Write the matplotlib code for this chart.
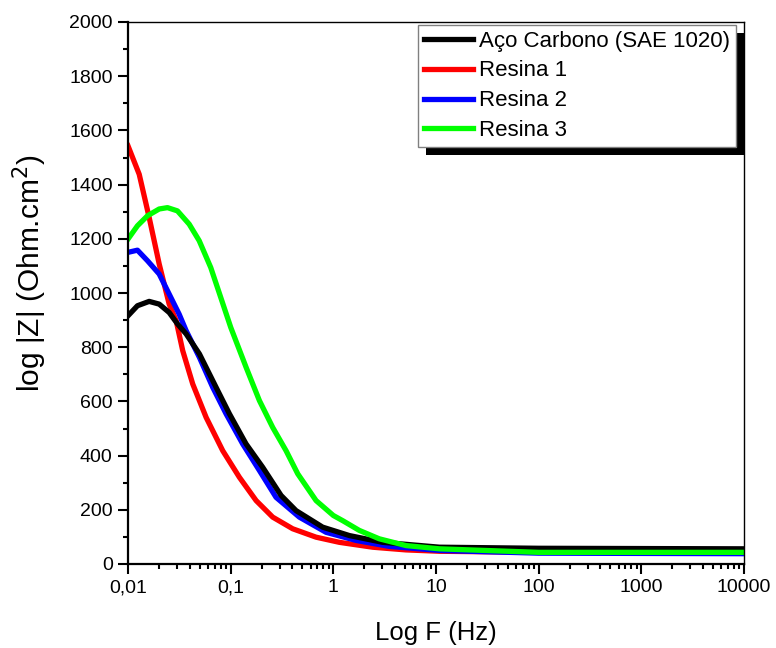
#!/usr/bin/env python3
import matplotlib
matplotlib.use("Agg")
import matplotlib.pyplot as plt
from matplotlib.ticker import FixedLocator, FuncFormatter, MultipleLocator, LogLocator, NullFormatter
from matplotlib.patches import Rectangle
from matplotlib.transforms import IdentityTransform

plt.rcParams['font.family'] = ['Liberation Sans', 'DejaVu Sans']

# frequencies (Hz) and |Z| values
f_aco = [0.01, 0.01236, 0.01607, 0.02013, 0.02518, 0.03032, 0.03683, 0.04966, 0.0721, 0.0973,
         0.1413, 0.205, 0.3097, 0.4335, 0.787, 1.432, 3.02, 10.8, 100, 10000]
z_aco = [916, 953, 969, 959, 928, 886, 849, 775, 652, 554,
         443, 357, 253, 197, 136, 105, 80, 62, 58, 56]

f_res1 = [0.01, 0.01286, 0.01607, 0.02013, 0.02518, 0.02944, 0.03413, 0.04273, 0.05768, 0.08372,
          0.1216, 0.177, 0.2567, 0.4018, 0.679, 1.143, 2.41, 5.10, 10.8, 100, 10000]
z_res1 = [1543, 1438, 1279, 1107, 959, 898, 787, 664, 541, 418,
          320, 234, 173, 130, 99, 80, 62, 52, 47, 43, 42]

f_res2 = [0.01, 0.01236, 0.01549, 0.02013, 0.02518, 0.03148, 0.03683, 0.04966, 0.06687, 0.09027,
          0.131, 0.1905, 0.2767, 0.4666, 0.849, 1.663, 3.51, 10.8, 100, 10000]
z_res2 = [1150, 1158, 1119, 1070, 996, 922, 861, 762, 652, 554,
          443, 345, 246, 173, 117, 87, 65, 50, 40, 38]

f_res3 = [0.01, 0.01236, 0.01549, 0.02013, 0.02424, 0.03032, 0.03945, 0.04937, 0.06397, 0.08,
          0.1002, 0.1413, 0.1905, 0.2567, 0.3465, 0.4498, 0.679, 1.0, 1.233, 1.79,
          2.80, 5.10, 10.8, 100, 10000]
z_res3 = [1199, 1248, 1285, 1310, 1315, 1303, 1254, 1193, 1094, 984,
          873, 726, 603, 504, 418, 333, 234, 179, 160, 124,
          93, 68, 56, 43, 43]

labels = ["Aço Carbono (SAE 1020)", "Resina 1", "Resina 2", "Resina 3"]
x_ticks = [0.01, 0.1, 1, 10, 100, 1000, 10000]
x_tick_labels = ["0,01", "0,1", "1", "10", "100", "1000", "10000"]

fig = plt.figure(figsize=(7.76, 6.48), dpi=100)
ax = fig.add_axes([128/776, 1 - 564/648, (744 - 128)/776, (564 - 22)/648])

lw = 3.8
ax.plot(f_aco, z_aco, color='black', lw=lw, zorder=2.2, label=labels[0])
ax.plot(f_res1, z_res1, color='#ff0000', lw=lw, zorder=2.0, label=labels[1])
ax.plot(f_res2, z_res2, color='#0000ff', lw=lw, zorder=2.1, label=labels[2])
ax.plot(f_res3, z_res3, color='#00ff00', lw=lw, zorder=2.3, label=labels[3])

ax.set_xscale('log')
ax.set_xlim(0.01, 10000)
ax.set_ylim(0, 2000)

ax.xaxis.set_major_locator(FixedLocator(x_ticks))
ax.xaxis.set_major_formatter(FuncFormatter(lambda v, p: x_tick_labels[x_ticks.index(v)] if v in x_ticks else ""))
ax.xaxis.set_minor_locator(LogLocator(base=10, subs=range(2, 10), numticks=20))
ax.xaxis.set_minor_formatter(NullFormatter())
ax.yaxis.set_major_locator(MultipleLocator(200))
ax.yaxis.set_minor_locator(MultipleLocator(100))

ax.tick_params(which='major', direction='out', length=7, width=1.5, labelsize=14, pad=4)
ax.tick_params(which='minor', direction='out', length=3.5, width=1.5)
ax.tick_params(top=False, right=False, which='both')

for s in ['left', 'bottom']:
    ax.spines[s].set_linewidth(1.6)
for s in ['top', 'right']:
    ax.spines[s].set_linewidth(1.0)

ax.set_xlabel("Log F (Hz)", fontsize=18.5, labelpad=18)
ax.set_ylabel("log |Z| (Ohm.cm$^2$)", fontsize=21.5)
ax.yaxis.set_label_coords(-0.128, 0.537)

leg = ax.legend(loc='upper right', bbox_to_anchor=(736/776, 1 - 25/648),
                bbox_transform=fig.transFigure, borderaxespad=0, fontsize=16,
                handlelength=2.2, handletextpad=0.3, labelspacing=0.40,
                borderpad=0.25, fancybox=False, framealpha=1, edgecolor='#808080')
leg.get_frame().set_linewidth(1.0)
for h in leg.get_lines():
    h.set_linewidth(lw)

# black drop shadow behind the legend box
fig.canvas.draw()
bb = leg.get_window_extent()
shadow = Rectangle((bb.x0 + 8, bb.y0 - 8), bb.width, bb.height, transform=IdentityTransform(),
                   facecolor='black', edgecolor='none', zorder=4.9, clip_on=False)
ax.add_artist(shadow)

fig.savefig("out.png", dpi=100)
